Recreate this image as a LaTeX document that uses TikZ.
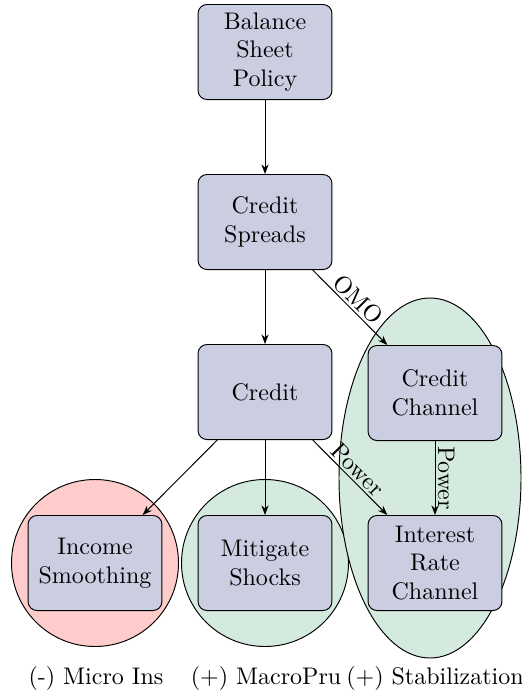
\documentclass[tikz,border=0pt]{standalone}
\usetikzlibrary{arrows.meta}
\definecolor{boxfill}{RGB}{203,206,225}
\definecolor{grnfill}{RGB}{213,234,223}
\definecolor{redfill}{RGB}{255,204,204}
\begin{document}
\begin{tikzpicture}[x=0.41667pt,y=-0.41667pt,
  box/.style={draw,fill=boxfill,rounded corners=3.75pt,minimum width=55.8pt,minimum height=39.6pt,align=center,inner sep=2pt},
  arr/.style={-{Stealth[length=4pt,width=3pt]},thin},
  grp/.style={draw,thin},
  lab/.style={midway,above,sloped,inner sep=1pt}]
\useasboundingbox (0,0) rectangle (522,694);
\draw[grp,fill=redfill] (95,563) circle[radius=83.5];
\draw[grp,fill=grnfill] (265,563) circle[radius=83.5];
\draw[grp,fill=grnfill] (430,478) ellipse[x radius=91,y radius=180];
\node[box] (A) at (265,52) {Balance\\Sheet\\Policy};
\node[box] (B) at (265,222) {Credit\\Spreads};
\node[box] (C) at (265,392) {Credit};
\node[box] (D) at (435,393) {Credit\\Channel};
\node[box] (E) at (435,563) {Interest\\Rate\\Channel};
\node[box] (F) at (95,563) {Income\\Smoothing};
\node[box] (G) at (265,563) {Mitigate\\Shocks};
\draw[arr] (A) -- (B);
\draw[arr] (B) -- (C);
\draw[arr] (B) -- node[lab] {OMO} (D);
\draw[arr] (C) -- (F);
\draw[arr] (C) -- (G);
\draw[arr] (C) -- node[lab] {Power} (E);
\draw[arr] (D) -- node[lab] {Power} (E);
\node (L1) at (96,678) {(-) Micro Ins};
\node (L2) at (266,678) {(+) MacroPru};
\node (L3) at (435,678) {(+) Stabilization};
\end{tikzpicture}
\end{document}
